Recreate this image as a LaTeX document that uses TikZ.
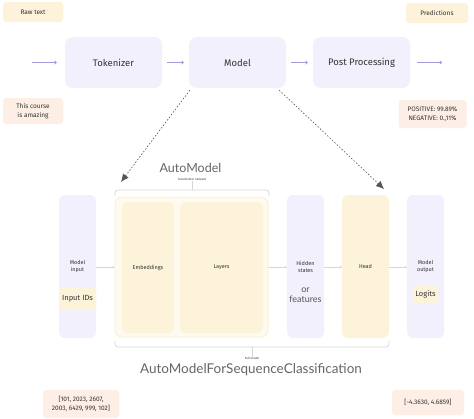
\documentclass[tikz,border=0pt]{standalone}
\usepackage{fontspec}
\setmainfont{Fira Sans}
\newfontfamily\titlefont{Lato}
\usetikzlibrary{arrows.meta,calc}
\definecolor{lav}{HTML}{F2F0FC}
\definecolor{yel}{HTML}{FDF3DA}
\definecolor{pch}{HTML}{FDEFE5}
\definecolor{arr}{HTML}{A29BDB}
\definecolor{garr}{HTML}{D5D5DE}
\definecolor{framefill}{HTML}{FEFAEE}
\definecolor{frameline}{HTML}{FBF1D8}
\definecolor{txt}{HTML}{333333}
\definecolor{dash}{HTML}{555555}
\begin{document}
\begin{tikzpicture}[x=1pt,y=-1pt,
  every node/.style={text=txt, inner sep=0pt, align=center},
  stage/.style={rounded corners=8pt, fill=lav, minimum width=97pt, minimum height=51pt, font=\fontsize{9.5}{11}\selectfont},
  tag/.style={rounded corners=3pt, fill=yel, font=\fontsize{6.5}{8}\selectfont},
  val/.style={rounded corners=3pt, fill=pch, font=\fontsize{6.5}{8.5}\selectfont},
  tall/.style={rounded corners=6pt, fill=lav, minimum width=37pt, minimum height=143pt, font=\fontsize{5.5}{7}\selectfont},
  ytall/.style={rounded corners=6pt, fill=yel, minimum height=131pt, font=\fontsize{5.5}{7}\selectfont},
  flow/.style={draw=arr, line width=0.6pt, -{To[length=2.5pt,width=4pt]}},
  gflow/.style={draw=garr, line width=0.7pt, -{To[length=2pt,width=3pt]}},
  dashy/.style={draw=dash, line width=0.6pt, dash pattern=on 1.5pt off 1.8pt, -{Latex[length=8pt,width=7pt]}},
  brack/.style={draw=garr, line width=0.7pt, rounded corners=3pt},
  title/.style={font=\titlefont\fontsize{12.5}{15}\selectfont, text=dash!90},
  tiny/.style={font=\fontsize{3}{3.5}\selectfont}
]
\useasboundingbox (0,0) rectangle (474,418);
\fill[white] (0,0) rectangle (474,418);

% top pipeline
\node[tag, minimum width=60pt, minimum height=20pt] (raw) at (33,12) {Raw text};
\node[tag, minimum width=62pt, minimum height=20pt] (pred) at (437,13) {Predictions};
\node[val, minimum width=60pt, minimum height=26pt] (sent) at (33,111) {This course\\is amazing};
\node[val, minimum width=68pt, minimum height=28pt] (res) at (432.5,114) {POSITIVE: 99.89\%\\NEGATIVE: 0.,11\%};

\node[stage] (tok) at (113.5,62.5) {Tokenizer};
\node[stage] (mod) at (237.5,62.5) {Model};
\node[stage] (post) at (361.5,62.5) {Post Processing};
\coordinate (in0) at (32,62.5);
\coordinate (out0) at (442,62.5);

\draw[flow] (in0) -- ($(tok.west)+(-8,0)$);
\draw[flow] ($(tok.east)+(5,0)$) -- ($(mod.west)+(-5,0)$);
\draw[flow] ($(mod.east)+(5,0)$) -- ($(post.west)+(-5,0)$);
\draw[flow] ($(post.east)+(7,0)$) -- (out0);

% lower diagram
\node[rounded corners=7pt, fill=framefill, draw=frameline, line width=1pt, minimum width=153pt, minimum height=140pt] (frame) at (191.5,267) {};
\node[ytall, minimum width=52pt] (emb) at (148,267.5) {Embeddings};
\node[ytall, minimum width=83pt] (lay) at (221.5,267.5) {Layers};
\node[tall] (min) at (77.5,266.5) {Model\\input};
\node[tall] (hid) at (305.5,266.5) {Hidden\\states};
\node[ytall, minimum width=47pt, minimum height=143pt] (head) at (365.5,266.5) {Head};
\node[tall] (mout) at (425.5,266.5) {Model\\output};

\node[tag, rounded corners=1pt, minimum width=37pt, minimum height=22pt, font=\fontsize{7.5}{9}\selectfont] (ids) at (77.5,299) {Input IDs};
\node[tag, rounded corners=1pt, minimum width=25pt, minimum height=18pt, font=\fontsize{7.5}{9}\selectfont] (logits) at (425.5,294) {Logits};
\node[font=\titlefont\fontsize{9}{10}\selectfont, text=dash] (orf) at (305.5,295) {or\\features};

\draw[gflow] (min.east |- 0,267) -- (frame.west |- 0,267);
\draw[gflow] (frame.east |- 0,267) -- (hid.west |- 0,267);
\draw[gflow] (hid.east |- 0,267) -- (head.west |- 0,267);
\draw[gflow] (head.east |- 0,267) -- (mout.west |- 0,267);

% brackets
\coordinate (tb1) at (115,196);
\coordinate (tb2) at (269,196);
\coordinate (tbc) at (192,190);
\draw[brack] (tb1) |- (tbc) -| (tb2);
\node[title] (am) at (190.5,168) {AutoModel};
\node[tiny] (tn) at (192,179.5) {Transformer network};
\draw[garr, line width=0.7pt] (tbc) -- (tn.south);

\coordinate (bb1) at (115,341);
\coordinate (bb2) at (389,341);
\coordinate (bbc) at (252,347);
\draw[brack] (bb1) |- (bbc) -| (bb2);
\node[tiny] (fm) at (252,358) {Full model};
\draw[garr, line width=0.7pt] (bbc) -- (fm.north);
\node[title, font=\titlefont\fontsize{13.5}{16}\selectfont] (amc) at (251,370) {AutoModelForSequenceClassification};

% dashed arrows
\coordinate (d1) at (121,182);
\coordinate (d2) at (384,189);
\draw[dashy] ($(mod.south west)+(1,2)$) -- (d1);
\draw[dashy] ($(mod.south east)+(-7,2)$) -- (d2);

% bottom values
\node[val, minimum width=76pt, minimum height=28pt] (ivals) at (81,404) {[101, 2023, 2607,\\2003, 6429, 999, 102]};
\node[val, minimum width=72pt, minimum height=25pt] (ovals) at (428,402.5) {[-4.3630, 4.6859]};
\end{tikzpicture}
\end{document}
